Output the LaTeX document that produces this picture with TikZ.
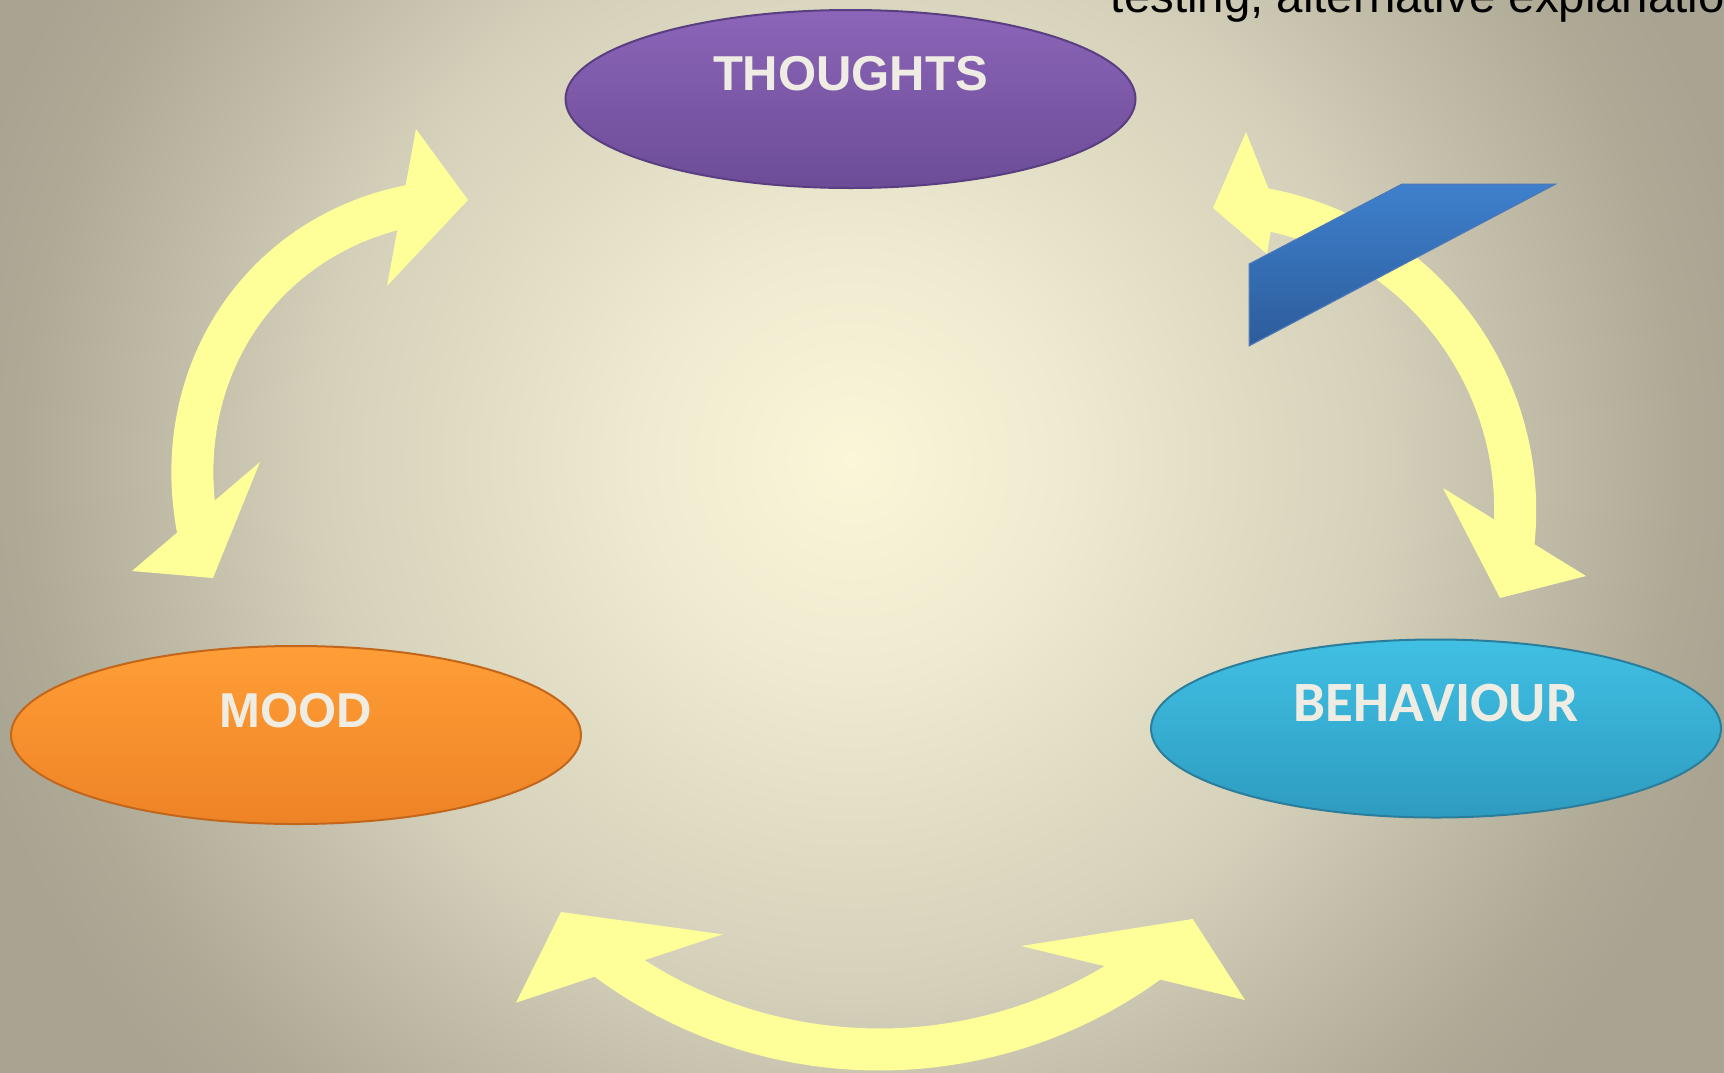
\documentclass[tikz,border=0pt]{standalone}
\usepackage{fontspec}
\setmainfont{Liberation Sans}
\newfontfamily\behavfont{Carlito}
\usepackage{tikz}
\usetikzlibrary{shapes.geometric}

\definecolor{bg0}{HTML}{FBF6D8}
\definecolor{bg1}{HTML}{EEEAD0}
\definecolor{bg2}{HTML}{DCD8C0}
\definecolor{bg3}{HTML}{D3CFB9}
\definecolor{bg4}{HTML}{C3BFAA}
\definecolor{bg5}{HTML}{AEAA96}
\definecolor{bg6}{HTML}{A8A491}
\definecolor{thoughtstop}{HTML}{8C65B8}
\definecolor{thoughtsbot}{HTML}{6C4C97}
\definecolor{thoughtsrim}{HTML}{5A3E82}
\definecolor{moodtop}{HTML}{FF9E36}
\definecolor{moodbot}{HTML}{EE8326}
\definecolor{moodrim}{HTML}{C2661C}
\definecolor{behavtop}{HTML}{40C0E4}
\definecolor{behavbot}{HTML}{2E9BC0}
\definecolor{behavrim}{HTML}{2A7E9B}
\definecolor{flowyellow}{HTML}{FFFF99}
\definecolor{labelwhite}{HTML}{EFEDE3}
\definecolor{tabtop}{HTML}{3E80CD}
\definecolor{tabbot}{HTML}{2D5C9B}
\definecolor{tabrim}{HTML}{4A78B8}

% backdrop: cream in the middle, grey towards the edges (1bp ~ 40px here)
\pgfdeclareradialshading{backdrop}{\pgfpointorigin}{%
  color(0bp)=(bg0); color(5.5bp)=(bg1); color(11bp)=(bg2); color(13.5bp)=(bg3);
  color(16.5bp)=(bg4); color(20.75bp)=(bg5); color(23bp)=(bg6); color(36bp)=(bg6)}

\tikzset{
  cycle node/.style={ellipse, draw, line width=1pt, minimum width=285pt,
    minimum height=89pt, inner sep=0pt},
  cycle label/.style={text=labelwhite, inner sep=0pt,
    font=\bfseries\fontsize{24.5}{29}\selectfont},
  flow/.style={draw=flowyellow, line width=21pt},
  flow head/.style={fill=flowyellow},
}

\begin{document}
\begin{tikzpicture}[x=0.5pt,y=-0.5pt]
  \useasboundingbox (0,0) rectangle (1724,1072);
  \clip (0,0) rectangle (1724,1072);
  \shade[shading=backdrop] (-148,-540) rectangle (1852,1460);
%  \draw[help lines,step=100] (0,0) grid (1724,1072);

  % mood <-> thoughts
  \coordinate (mt-low) at (198.6,533.6);
  \coordinate (mt-high) at (410.8,205.6);
  \draw[flow] (mt-low) .. controls (166.9,376.8) and (258.9,235.4) .. (mt-high);
  \fill[flow head] (213,578) -- (132,571) -- (260,462) -- cycle;
  \fill[flow head] (468,200) -- (416,129) -- (387,286) -- cycle;

  % thoughts <-> behaviour
  \coordinate (tb-high) at (1262.8,208.8);
  \coordinate (tb-low) at (1512.7,549.7);
  \draw[flow] (tb-high) .. controls (1423.6,237.7) and (1533.5,387.6) .. (tb-low);
  \fill[flow head] (1246,132) -- (1213,208) -- (1267,254) -- (1275,205) -- cycle;
  \fill[flow head] (1500,598) -- (1443,488) -- (1586,576) -- cycle;

  % mood <-> behaviour
  \coordinate (mb-left) at (604.3,957.7);
  \coordinate (mb-right) at (1148.2,962.4);
  \draw[flow] (mb-left) .. controls (765,1078.3) and (985.5,1080.2) .. (mb-right);
  \fill[flow head] (561,912) -- (722.7,934.3) -- (516,1002.7) -- cycle;
  \fill[flow head] (1192.7,919) -- (1021,946) -- (1245,1000) -- cycle;

  % blue tab over the right arrow
  \shade[top color=tabtop, bottom color=tabbot, draw=tabrim, line width=0.6pt]
    (1249.3,264) -- (1401.7,184.3) -- (1555,184.3) -- (1249.3,345.7) -- cycle;

  \node[cycle node, top color=thoughtstop, bottom color=thoughtsbot,
    draw=thoughtsrim] (thoughts) at (850.5,99) {};
  \node[cycle node, top color=moodtop, bottom color=moodbot,
    draw=moodrim] (mood) at (296,735) {};
  \node[cycle node, top color=behavtop, bottom color=behavbot,
    draw=behavrim] (behaviour) at (1436,728.5) {};

  \node[cycle label] (thoughts-text) at ([yshift=12.8pt]thoughts.center) {THOUGHTS};
  \node[cycle label] (mood-text) at ([yshift=12pt]mood.center) {MOOD};
  \node[cycle label, font=\behavfont\bfseries\fontsize{28.5}{34}\selectfont]
    (behaviour-text) at ([yshift=12.5pt]behaviour.center) {BEHAVIOUR};

  \node[anchor=base west, inner sep=0pt, font=\fontsize{23.7}{28}\selectfont]
    (note) at (1110.5,12.7) {testing, alternative explanations};
\end{tikzpicture}
\end{document}
